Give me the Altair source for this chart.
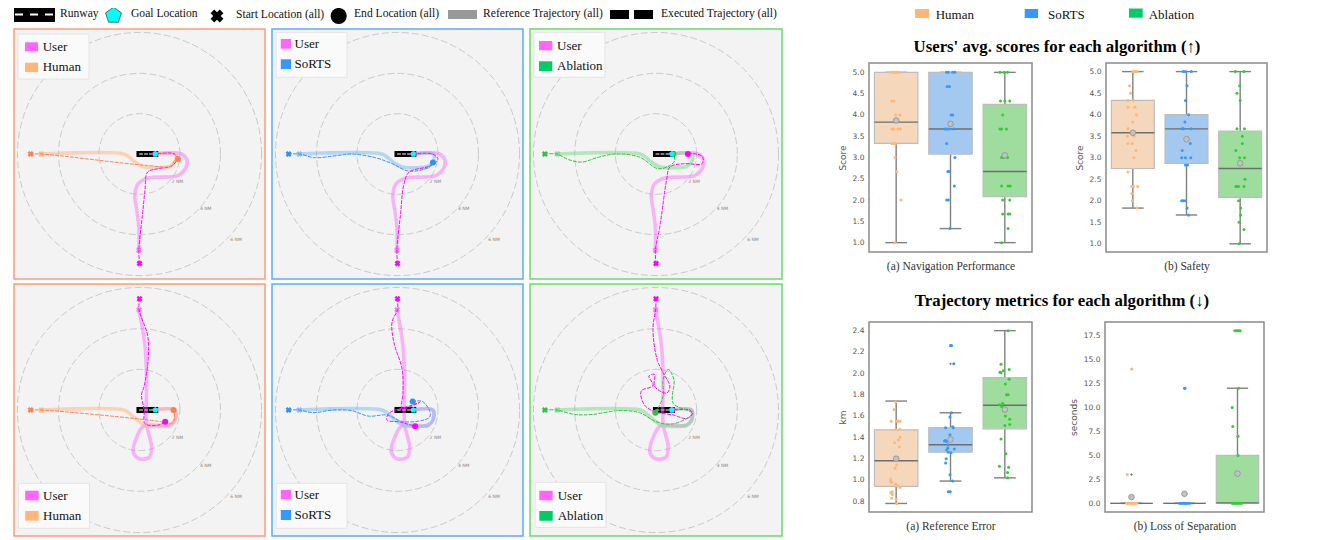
import altair as alt
import numpy as np
import pandas as pd

SERIF = "Liberation Serif"
SANS = "DejaVu Sans"
ALGOS = ["Human", "SoRTS", "Ablation"]

# ---------- trajectories, nautical miles from the chart centre ----------
ALGO_REF_TOP = [(-4.85,0),(-0.77,0),(-0.52,-0.15),(-0.1,-0.48),(0.23,-0.65),(0.8,-0.68),(1.5,-0.62),(1.75,-0.4),(1.78,0),(0.78,0)]
ALGO_REF_BOTTOM = [(-4.85,0),(-0.77,0),(-0.52,-0.15),(0,-0.58),(0.28,-0.75),(1.5,-0.75),(1.75,-0.5),(1.75,0),(0.78,0)]
USER_REF_TOP = [(-0.03,-4.78),(-0.03,-3.65),(-0.13,-2.82),(-0.23,-2.07),(-0.07,-1.48),(0.4,-1.2),(1.9,-1.07),(2.27,-0.73),(2.35,-0.32),(2.07,0),(0.78,0)]
USER_REF_BOTTOM = [(-0.02,4.93),(0.27,3.17),(0.35,1.5),(0.35,-0.67),(0.6,-1.83),(0.48,-2.33),(-0.02,-2.4),(-0.3,-2.08),(-0.1,-1.25),(0.23,-0.78),(1.5,-0.75),(1.75,-0.5),(1.75,0),(0.78,0)]

EXEC_ALGO = [
    [(-5.38,0),(-4.85,0),(0.4,-0.57),(1.57,-0.6),(1.73,-0.32),(1.9,-0.25)],
    [(-5.38,0),(-4.85,0),(-4.1,-0.18),(-2.93,-0.07),(-2.27,0),(-1.1,-0.18),(-0.27,-0.48),(0.57,-0.85),(1.57,-0.65),(1.75,-0.42)],
    [(-5.47,0),(-4.9,0),(-4.3,-0.28),(-3.65,-0.4),(-2.8,-0.15),(-2,0),(-0.82,-0.15),(0.1,-0.73),(0.68,-0.57),(0.93,-0.32),(0.85,0)],
    [(-5.38,0),(-4.85,0),(0.9,-0.55),(1.57,-0.67),(1.73,-0.42),(1.68,0)],
    [(-5.38,0),(-4.85,0),(-4.18,-0.13),(-3.18,0),(-2.27,-0.03),(-1.43,-0.3),(-0.52,-0.25),(0.32,-0.58),(1.57,-0.37),(1.6,-0.08),(1.23,0.42),(0.75,0.42)],
    [(-5.47,0),(-4.9,0),(-4,-0.22),(-3.15,-0.22),(-1.82,-0.03),(-0.82,-0.13),(0.02,-0.58),(0.85,-0.68),(1.77,-0.17),(0.85,0.33),(0.88,1.5),(0.6,2),(0.35,1.5),(0.35,0.67),(-0.03,-0.13)],
]
EXEC_USER = [
    [(0,-5.43),(-0.03,-4.78),(0.15,-2.98),(0.27,-1.82),(0.4,-0.9),(0.9,-0.73),(1.57,-0.6),(1.82,-0.32),(1.73,0),(0.78,0)],
    [(0,-5.43),(-0.03,-4.78),(0.15,-2.98),(0.32,-1.48),(0.57,-0.9),(1.57,-0.6),(2,-0.28),(1.73,0),(0.8,0)],
    [(0,-5.43),(-0.03,-4.78),(0.18,-3.65),(0.52,-1.3),(0.68,-0.65),(1.35,-0.48),(2.27,-0.48),(2.3,-0.15),(2,0),(1.57,0)],
    [(0,5.47),(-0.02,4.93),(0.4,3.67),(0.43,2.5),(0.23,1.17),(0.1,0.75),(0.23,0),(0.27,-0.67),(0.9,-0.75),(1.27,-0.58)],
    [(0,5.47),(0,4.93),(-0.27,4.33),(-0.18,3.33),(0.23,2),(0.27,0.83),(0.23,0.08),(1.1,0.38),(0.6,0.2),(-0.43,-0.17),(-0.52,-0.5),(0.07,-0.58),(0.87,-0.8)],
    [(0,5.47),(-0.02,4.93),(-0.15,4),(0.05,2.5),(0.35,1.83),(0.68,1.17),(0.52,0.83),(-0.07,1.17),(-0.07,1.75),(-0.35,1.67),(-0.15,1.2),(-0.73,0.93),(-0.57,0.25),(-0.07,-0.08),(0.85,-0.25),(1.52,-0.42),(1.8,-0.17),(1.68,0),(0.8,0)],
]
ALGO_REFS = [ALGO_REF_TOP, ALGO_REF_TOP, ALGO_REF_TOP, ALGO_REF_BOTTOM, ALGO_REF_BOTTOM, ALGO_REF_BOTTOM]
USER_REFS = [USER_REF_TOP, USER_REF_TOP, USER_REF_TOP, USER_REF_BOTTOM, USER_REF_BOTTOM, USER_REF_BOTTOM]
RING_LABELS = ["2 NM", "4 NM", "6 NM"]
RING_RADII = [2, 4, 6.03]
RING_LABEL_X = [1.87, 3.27, 4.77]
RING_LABEL_Y = [-1.38, -2.75, -4.27]
GOAL = (0.78, 0)
RUNWAY = (-0.15, 0.93)

# ---------- box plot values ----------
NAV_Q1, NAV_MED, NAV_Q3 = [3.33, 3.08, 2.08], [3.83, 3.67, 2.67], [5.0, 5.0, 4.25]
NAV_LO, NAV_HI, NAV_MEAN = [1.0, 1.33, 1.0], [5.0, 5.0, 5.0], [3.87, 3.79, 3.05]
NAV_Y = [
    [5,5,5,5,5,4.33,4.33,4,4,3.67,3.67,3.67,3.67,3.33,3.33,3.33,3,2.67,2,1],
    [5,5,5,5,4.67,4.67,4,4,3.67,3.67,3.67,3.67,3.33,3,2.67,2.67,2.33,2,2,1.33],
    [5,5,5,4.33,4.33,4.33,4,3.67,3.67,3.67,3,3,3,2.33,2.33,2.33,2,2,1.67,1.67,1.67,1.33,1],
]
NAV_J = [
    [-.10,-.06,-.02,.01,.05,-.08,-.04,-.01,.07,-.08,-.04,.03,.08,-.08,-.04,-.01,-.02,.01,.09,-.02],
    [-.07,-.04,.04,.08,-.06,-.02,.01,.04,-.10,-.07,-.03,.06,-.07,.08,-.05,-.02,.07,-.07,-.04,-.01],
    [-.09,-.01,.05,-.08,0,.09,-.04,-.09,-.06,.03,-.06,-.02,.05,-.06,.06,.10,-.04,.09,-.04,.06,.09,.06,-.06],
]
SAFE_Q1, SAFE_MED, SAFE_Q3 = [2.75, 2.87, 2.08], [3.58, 3.67, 2.75], [4.33, 4.0, 3.62]
SAFE_LO, SAFE_HI, SAFE_MEAN = [1.83, 1.67, 1.0], [5.0, 5.0, 5.0], [3.58, 3.43, 2.87]
SAFE_Y = [
    [5,5,5,4.67,4.5,4.33,4.33,4.17,4.17,4,3.83,3.67,3.5,3.5,3.33,3.33,3.17,3,2.67,2.33,2.33,2.33,2.17,2,1.83],
    [5,5,5,4.67,4.33,4,3.83,3.67,3.67,3.67,3.33,3.17,3,3,3,2.83,2.83,2,2,2,1.83,1.67],
    [5,5,4.67,4.5,4.33,3.67,3.67,3.5,3.33,3.17,3,3,2.5,2.33,2.33,2.33,2.33,2,1.83,1.67,1.5,1.33,1],
]
SAFE_J = [
    [0,.04,.08,-.06,-.04,-.09,.01,-.09,.04,.07,0,-.09,-.10,.02,-.09,-.01,.06,.02,-.09,-.02,.01,.09,-.02,-.01,.08],
    [-.06,-.02,.09,.01,-.02,.04,-.03,-.08,-.06,.09,.07,-.08,-.09,-.02,.08,-.02,.02,-.09,-.06,-.02,.01,.04],
    [-.09,.07,-.01,-.06,0,-.06,.08,.04,.04,-.08,-.01,.08,.09,-.08,-.06,-.03,.07,-.03,.01,.01,-.02,.07,-.02],
]
ERR_Q1, ERR_MED, ERR_Q3 = [0.94, 1.26, 1.48], [1.18, 1.33, 1.70], [1.47, 1.49, 1.96]
ERR_LO, ERR_HI, ERR_MEAN = [0.78, 0.99, 1.02], [1.74, 1.63, 2.40], [1.20, 1.38, 1.66]
ERR_Y = [
    [1.73,1.66,1.55,1.55,1.55,1.55,1.47,1.475,1.40,1.375,1.35,1.31,1.14,1.11,1.01,0.99,0.98,0.96,0.945,0.93,0.88,0.89,0.865,0.83,0.82,0.78],
    [2.26,2.26,2.09,1.63,1.59,1.49,1.50,1.49,1.425,1.37,1.365,1.36,1.33,1.30,1.28,1.29,1.26,1.255,1.20,1.16,1.05,0.99,0.89,0.89],
    [2.4,2.085,2.035,2.025,2.01,2.005,1.945,1.90,1.80,1.80,1.72,1.705,1.69,1.60,1.57,1.52,1.51,1.385,1.245,1.13,1.12,1.07,1.02],
]
ERR_J = [
    [-.01,-.04,-.09,.01,.04,.07,-.01,.07,.07,.04,-.03,.06,.01,-.02,-.10,-.10,-.09,-.01,.02,.07,-.10,-.07,-.07,-.08,0,.01],
    [0,.02,.06,.02,-.01,-.09,.04,.05,-.01,-.09,-.11,-.07,-.04,-.05,-.07,.07,-.04,.01,-.08,-.09,-.01,.04,-.04,-.01],
    [.06,-.07,.08,-.03,-.09,-.07,.08,.01,.03,.06,-.04,-.10,-.06,.01,.09,.09,0,-.07,.02,-.10,.07,.05,.05],
]
ERR_FLIER_X, ERR_FLIER_Y = [1, 1, 1], [2.26, 2.09, 0.89]
LOS_Q1, LOS_MED, LOS_Q3 = [0, 0, 0], [0, 0, 0.05], [0, 0, 5.0]
LOS_LO, LOS_HI, LOS_MEAN = [0, 0, 0], [0, 0, 12.0], [0.66, 1.0, 3.1]
LOS_Y = [
    [14,3,0,0,0,0,0,0,0,0,0,0],
    [12,12,0,0,0,0,0,0,0,0],
    [18,18,18,18,12,10,8,7,5,0,0,0,0,0,0,0,0],
]
LOS_J = [
    [.01,-.08,-.09,-.07,-.05,-.03,-.01,.01,.03,.05,.07,.10],
    [0,.01,-.09,-.07,-.04,-.01,.01,.03,.06,.10],
    [-.05,-.02,.02,.05,.02,-.10,-.09,.01,.01,-.10,-.07,-.05,-.02,0,.03,.05,.08],
]
LOS_FLIER_X, LOS_FLIER_Y = [0, 0, 1, 2], [14, 3, 12, 18]

# ---------- colours ----------
FRAME = ["#ff9a78", "#5cacff", "#66dd66"]
EXEC_COL = ["#ff7f50", "#2f8fff", "#2fc23f"]
REF_COL = ["#ffb68a", "#7fbcf5", "#7ddc8a"]
SWATCH = ["#ffb677", "#3399ff", "#00cc66"]
PT_COL = ["#ffb677", "#3399ff", "#33cc33"]
BOX_COL = ["#f5d7bb", "#a3c9f0", "#9fdd9f"]
USER_COL = "#ff00ff"
USER_SW = "#ff66ff"
DUMMY = alt.Data(values=[{"a": 1}])

XS = alt.Scale(domain=[-6.2, 6.2], nice=False, zero=False)
YS = alt.Scale(domain=[-6.2, 6.2], nice=False, zero=False)


def ptrack(pts):
    return pd.DataFrame({"x": [p[0] for p in pts], "y": [p[1] for p in pts], "i": range(len(pts))})


def ex(): return alt.X("x:Q", scale=XS, axis=None)
def ey(): return alt.Y("y:Q", scale=YS, axis=None)


def line(pts, color, width, opacity=1.0, dash=None):
    kw = dict(color=color, strokeWidth=width, opacity=opacity, interpolate="catmull-rom", strokeCap="round", strokeJoin="round")
    if dash:
        kw["strokeDash"] = dash
    return alt.Chart(ptrack(pts)).mark_line(**kw).encode(ex(), ey(), order="i:Q")


def symbol(pt, color, shape, size, opacity=1.0, angle=0):
    return alt.Chart(ptrack([pt])).mark_point(shape=shape, filled=True, size=size, color=color, opacity=opacity, angle=angle, strokeWidth=0).encode(ex(), ey())


PENTAGON = "M0,-1L0.95,-0.31L0.59,0.81L-0.59,0.81L-0.95,-0.31Z"


def px_rect(x1, x2, y1, y2, **kw):
    return alt.Chart(DUMMY).mark_rect(**kw).encode(x=alt.value(x1), x2=alt.value(x2), y=alt.value(y1), y2=alt.value(y2))


def px_text(txt, x, y, size=13, font=SERIF, color="#111", weight="normal", align="left"):
    return alt.Chart(DUMMY).mark_text(font=font, fontSize=size, color=color, fontWeight=weight, align=align, baseline="middle").encode(
        x=alt.value(x), y=alt.value(y), text=alt.value(txt))


LEGEND_BOX = [(4, 75, 5, 50), (4, 75, 3.3, 48.3), (4, 75, 3.3, 48.3), (4.4, 75.5, 199.3, 244.3), (4, 75, 199.3, 244.3), (5, 76, 198.3, 243.3)]
LEGEND_SW_X = [(11, 24), (8.8, 19), (9, 22.3), (11.2, 24.7), (8.8, 19), (9.3, 22.7)]
LEGEND_SW_Y = [(13.3, 22.3, 33.7, 43), (10, 19.7, 30.3, 40), (12, 21.3, 32.3, 42), (206.7, 216.3, 227, 236.7), (206, 215.3, 226, 236), (206.7, 216.3, 227, 236.7)]
LEGEND_TX = [28.7, 22.5, 27, 29, 22.5, 27.7]


def map_panel(k, w, h):
    a = k % 3
    layers = []
    theta = np.linspace(0, 2 * np.pi, 181)
    for r in RING_RADII:
        ring = pd.DataFrame({"x": r * np.cos(theta), "y": r * np.sin(theta), "i": range(181)})
        layers.append(alt.Chart(ring).mark_line(color="#c9c9c9", strokeWidth=1, strokeDash=[7, 3]).encode(ex(), ey(), order="i:Q"))
    layers.append(alt.Chart(pd.DataFrame({"x": RING_LABEL_X, "y": RING_LABEL_Y, "t": RING_LABELS})).mark_text(
        font=SANS, fontSize=4.5, color="#888").encode(ex(), ey(), text="t:N"))
    # runway
    layers.append(alt.Chart(pd.DataFrame({"x": [RUNWAY[0]], "x2": [RUNWAY[1]], "y": [-0.15], "y2": [0.15]})).mark_rect(color="#000").encode(
        ex(), x2="x2:Q", y=alt.Y("y:Q", scale=YS, axis=None), y2="y2:Q"))
    layers.append(line([(0, 0), (0.65, 0)], "#fff", 1, dash=[3, 2]))
    # reference paths
    layers.append(line(USER_REFS[k], USER_SW, 3.6, 0.45))
    layers.append(line(ALGO_REFS[k], REF_COL[a], 3.6, 0.55))
    layers.append(symbol(USER_REFS[k][0], USER_SW, "cross", 36, 0.8, 45))
    layers.append(symbol(ALGO_REFS[k][0], REF_COL[a], "cross", 36, 0.9, 45))
    # executed paths
    layers.append(line(EXEC_USER[k], USER_COL, 1.0, dash=[3, 2]))
    layers.append(line(EXEC_ALGO[k], EXEC_COL[a], 1.0, dash=[3, 2]))
    layers.append(symbol(EXEC_USER[k][0], USER_COL, "cross", 36, 1, 45))
    layers.append(symbol(EXEC_ALGO[k][0], EXEC_COL[a], "cross", 36, 1, 45))
    layers.append(symbol(EXEC_USER[k][-1], USER_COL, "circle", 36))
    layers.append(symbol(EXEC_ALGO[k][-1], EXEC_COL[a], "circle", 36))
    layers.append(symbol(GOAL, "#00ffff", PENTAGON, 38))
    # legend
    bx = LEGEND_BOX[k]
    layers.append(px_rect(bx[0], bx[1], bx[2], bx[3], fill="#fafafa", stroke="#e4e4e4", strokeWidth=1))
    sx, sy = LEGEND_SW_X[k], LEGEND_SW_Y[k]
    layers.append(px_rect(sx[0], sx[1], sy[0], sy[1], color=USER_SW))
    layers.append(px_rect(sx[0], sx[1], sy[2], sy[3], color=SWATCH[a]))
    layers.append(px_text("User", LEGEND_TX[k], (sy[0] + sy[1]) / 2))
    layers.append(px_text(ALGOS[a], LEGEND_TX[k], (sy[2] + sy[3]) / 2))
    return alt.layer(*layers).properties(width=w, height=h, view=alt.ViewConfig(fill="#f3f3f3", stroke=FRAME[a], strokeWidth=1.5))


def box_panel(q1, med, q3, lo, hi, mean, ys, js, dom, ticks, ytitle, xtitle, w, h, fx=None, fy=None):
    xs = alt.Scale(domain=[-0.5, 2.5], nice=False, zero=False)
    ysc = alt.Scale(domain=dom, nice=False, zero=False)
    pos = [0, 1, 2]
    df = pd.DataFrame({"p": pos, "q1": q1, "med": med, "q3": q3, "lo": lo, "hi": hi, "mean": mean, "c": BOX_COL})
    df["l"] = df.p - 0.4
    df["r"] = df.p + 0.4
    df["cl"] = df.p - 0.2
    df["cr"] = df.p + 0.2
    pts = pd.DataFrame({
        "x": [p + j for p, jj in zip(pos, js) for j in jj],
        "y": [v for vv in ys for v in vv],
        "c": [PT_COL[p] for p, vv in zip(pos, ys) for _ in vv],
    })
    xaxis = alt.Axis(title=xtitle, labels=False, ticks=False, domain=False, grid=False, titleFont=SERIF, titleFontSize=11.5,
                     titleFontWeight="normal", titleColor="#333", titlePadding=8)
    yaxis = alt.Axis(title=ytitle, values=ticks, format=".1f", ticks=False, domain=False, grid=False, labelFont=SANS, labelFontSize=7.5,
                     labelColor="#555", labelPadding=5, titleFont=SANS, titleFontSize=9, titleFontWeight="normal", titleColor="#555", titlePadding=5)
    X = lambda f: alt.X(f"{f}:Q", scale=xs, axis=xaxis)
    Y = lambda f: alt.Y(f"{f}:Q", scale=ysc, axis=yaxis)
    base = alt.Chart(df)
    layers = [
        base.mark_rule(color="#808080", strokeWidth=1.4).encode(X("p"), Y("lo"), y2="hi:Q"),
        base.mark_rule(color="#808080", strokeWidth=1.4).encode(X("cl"), x2="cr:Q", y=Y("lo")),
        base.mark_rule(color="#808080", strokeWidth=1.4).encode(X("cl"), x2="cr:Q", y=Y("hi")),
        base.mark_rect(stroke="#bdbdbd", strokeWidth=1.2).encode(X("l"), x2="r:Q", y=Y("q1"), y2="q3:Q", color=alt.Color("c:N", scale=None)),
        base.mark_rule(color="#6e6e6e", strokeWidth=1.4).encode(X("l"), x2="r:Q", y=Y("med")),
    ]
    if fx:
        layers.append(alt.Chart(pd.DataFrame({"x": fx, "y": fy})).mark_point(shape="diamond", filled=True, color="#333", size=7, strokeWidth=0).encode(X("x"), Y("y")))
    layers.append(alt.Chart(pts).mark_circle(size=9, opacity=1).encode(X("x"), Y("y"), color=alt.Color("c:N", scale=None)))
    layers.append(base.mark_point(filled=True, fill="#c2c2c2", stroke="#8f8f8f", strokeWidth=0.8, size=32, opacity=1).encode(X("p"), Y("mean")))
    return alt.layer(*layers).properties(width=w, height=h, view=alt.ViewConfig(stroke="#8a8a8a", strokeWidth=1.5, fill="white"))


# ---------- header legend (origin at 14, 8) ----------
OX, OY = 14, 8
def hx(v): return v - OX
def hy(v): return v - OY

HF = 11.6
header_layers = [
    px_rect(hx(14), hx(55), hy(8), hy(23), color="#000"),
    alt.Chart(DUMMY).mark_rule(color="#fff", strokeWidth=2, strokeDash=[8, 7]).encode(x=alt.value(hx(15)), x2=alt.value(hx(54)), y=alt.value(hy(15.5))),
    px_text("Runway", hx(60), hy(15), HF),
    alt.Chart(DUMMY).mark_point(shape=PENTAGON, filled=True, size=280, fill="#00ffff", stroke="#333", strokeWidth=0.7, opacity=1).encode(x=alt.value(hx(113.5)), y=alt.value(hy(16.5))),
    px_text("Goal Location", hx(131), hy(14.5), HF),
    alt.Chart(DUMMY).mark_point(shape="cross", filled=True, size=170, color="#000", angle=45, opacity=1, strokeWidth=0).encode(x=alt.value(hx(217)), y=alt.value(hy(17))),
    px_text("Start Location (all)", hx(236), hy(15.5), HF),
    alt.Chart(DUMMY).mark_point(shape="circle", filled=True, size=260, color="#000", opacity=1, strokeWidth=0).encode(x=alt.value(hx(338.7)), y=alt.value(hy(17))),
    px_text("End Location (all)", hx(354), hy(15), HF),
    px_rect(hx(448), hx(477), hy(11), hy(20), color="#999"),
    px_text("Reference Trajectory (all)", hx(483), hy(15), HF),
    px_rect(hx(610), hx(629), hy(11), hy(20), color="#000"),
    px_rect(hx(634), hx(653), hy(11), hy(20), color="#000"),
    px_text("Executed Trajectory (all)", hx(661), hy(15), HF),
]
header = alt.layer(*header_layers).properties(width=767, height=20.5, view=alt.ViewConfig(stroke=None))

row1 = alt.hconcat(map_panel(0, 251, 250), map_panel(1, 251, 250), map_panel(2, 252, 250), spacing=5)
row2 = alt.hconcat(map_panel(3, 251, 252), map_panel(4, 251, 252), map_panel(5, 252, 252), spacing=5)
rows = alt.vconcat(row1, row2, spacing=3)
left = alt.vconcat(header, rows, spacing=0)

# ---------- right block (origin at the left edge of the first box frame) ----------
RX = 868
head1_layers = [
    px_rect(914 - RX, 928 - RX, 2, 11, color=SWATCH[0]),
    px_text("Human", 934.7 - RX, 8, 13),
    px_rect(1023.7 - RX, 1037 - RX, 2, 11, color=SWATCH[1]),
    px_text("SoRTS", 1047 - RX, 8, 13),
    px_rect(1128 - RX, 1141.7 - RX, 1.5, 10.7, color=SWATCH[2]),
    px_text("Ablation", 1147.7 - RX, 8, 13),
    px_text("Users' avg. scores for each algorithm (↑)", 1056 - RX, 39.5, 16.8, color="#000", weight="bold", align="center"),
]
head1 = alt.layer(*head1_layers).properties(width=396, height=54.5, view=alt.ViewConfig(stroke=None))
head2 = px_text("Trajectory metrics for each algorithm (↓)", 1061 - RX, 28, 16.8, color="#000", weight="bold", align="center").properties(
    width=396, height=48, view=alt.ViewConfig(stroke=None))

p1 = box_panel(NAV_Q1, NAV_MED, NAV_Q3, NAV_LO, NAV_HI, NAV_MEAN, NAV_Y, NAV_J, [0.78, 5.22], [1, 1.5, 2, 2.5, 3, 3.5, 4, 4.5, 5], "Score", "(a) Navigation Performance", 163, 189)
p2 = box_panel(SAFE_Q1, SAFE_MED, SAFE_Q3, SAFE_LO, SAFE_HI, SAFE_MEAN, SAFE_Y, SAFE_J, [0.81, 5.2], [1, 1.5, 2, 2.5, 3, 3.5, 4, 4.5, 5], "Score", "(b) Safety", 161, 189)
p3 = box_panel(ERR_Q1, ERR_MED, ERR_Q3, ERR_LO, ERR_HI, ERR_MEAN, ERR_Y, ERR_J, [0.70, 2.481], [0.8, 1.0, 1.2, 1.4, 1.6, 1.8, 2.0, 2.2, 2.4], "km", "(a) Reference Error", 163, 190, ERR_FLIER_X, ERR_FLIER_Y)
p4 = box_panel(LOS_Q1, LOS_MED, LOS_Q3, LOS_LO, LOS_HI, LOS_MEAN, LOS_Y, LOS_J, [-0.9, 18.9], [0, 2.5, 5, 7.5, 10, 12.5, 15, 17.5], "seconds", "(b) Loss of Separation", 159, 190, LOS_FLIER_X, LOS_FLIER_Y)

boxes1 = alt.hconcat(p1, p2, spacing=41)
boxes2 = alt.hconcat(p3, p4, spacing=35)
right = alt.vconcat(head1, boxes1, head2, boxes2, spacing=0)

chart = alt.hconcat(left, right, spacing=54).properties(
    padding={"left": 5, "top": -3, "right": 0, "bottom": 0}, background="white"
)
chart.save("out.html", embed_options={"renderer": "svg", "actions": False})
